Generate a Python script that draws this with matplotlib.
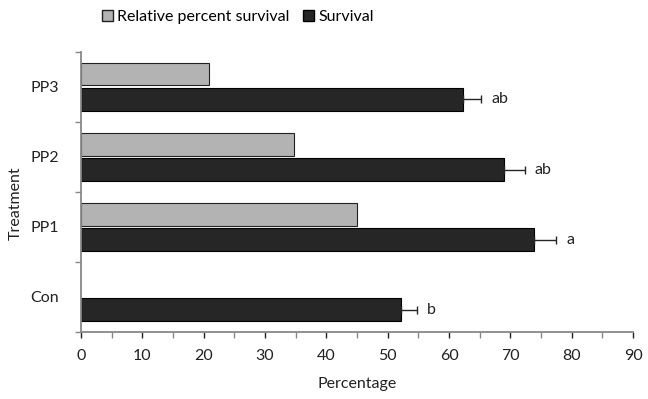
import numpy as np
import matplotlib
matplotlib.use('Agg')
import matplotlib.pyplot as plt
from matplotlib.patches import Patch

treatments = ['Con', 'PP1', 'PP2', 'PP3']
relative_survival = [np.nan, 45.0, 34.7, 20.9]
survival = [52.1, 73.9, 68.9, 62.2]
survival_err = [2.6, 3.6, 3.4, 3.0]
letters = ['b', 'a', 'ab', 'ab']

plt.rcParams['font.family'] = ['Lato', 'DejaVu Sans']
plt.rcParams['font.size'] = 11.5

fig = plt.figure(figsize=(6.48, 3.99), dpi=100)
ax = fig.add_axes([0.125, 0.168, 0.852, 0.702])

y = np.arange(len(treatments))
h = 0.32
off = 0.18
ax.barh(y + off, relative_survival, height=h, color='#b3b3b3', edgecolor='#222222', linewidth=0.8)
ax.barh(y - off, survival, height=h, color='#262626', edgecolor='#000000', linewidth=0.8,
        xerr=[np.zeros(len(survival)), survival_err],
        error_kw=dict(ecolor='#262626', elinewidth=1, capsize=3, capthick=1))

for yi, v, e, t in zip(y, survival, survival_err, letters):
    ax.text(v + e + 1.7, yi - off, t, va='center', ha='left', color='#222222')

ax.set_xlim(0, 90)
ax.set_ylim(-0.5, 3.5)
ax.set_xticks(np.arange(0, 91, 10))
ax.set_xticks(np.arange(0, 91, 5), minor=True)
ax.set_yticks(y)
ax.set_yticks(np.arange(-0.5, 3.6, 1), minor=True)
ax.set_yticklabels(treatments)
ax.tick_params(axis='y', which='major', length=0, pad=16)
ax.tick_params(axis='y', which='minor', length=4, color='#888888', width=1)
ax.tick_params(axis='x', which='both', length=4, color='#888888', width=1, pad=8)
ax.tick_params(colors='#222222', which='major')
for s in ['top', 'right']:
    ax.spines[s].set_visible(False)
for s in ['left', 'bottom']:
    ax.spines[s].set_color('#888888')
    ax.spines[s].set_linewidth(1.3)

ax.set_xlabel('Percentage', color='#222222')
ax.xaxis.set_label_coords(0.5, -0.16)
ax.set_ylabel('Treatment', color='#222222')
ax.yaxis.set_label_coords(-0.105, 0.46)

handles = [Patch(facecolor='#b3b3b3', edgecolor='#222222', label='Relative percent survival'),
           Patch(facecolor='#262626', edgecolor='#000000', label='Survival')]
fig.legend(handles=handles, loc='center', bbox_to_anchor=(0.367, 0.958), ncol=2, frameon=False,
           handlelength=0.7, handleheight=0.7, handletextpad=0.3, columnspacing=0.8)

fig.savefig('out.png', dpi=100)
